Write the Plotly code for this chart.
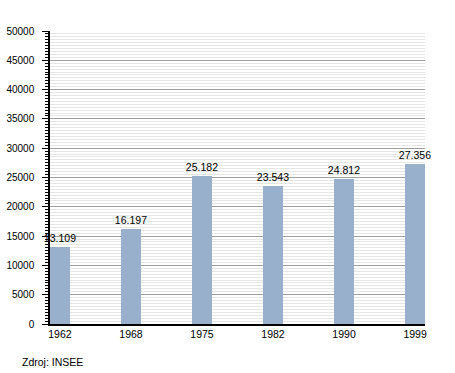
import plotly.graph_objects as go

years = ["1962", "1968", "1975", "1982", "1990", "1999"]
population = [13109, 16197, 25182, 23543, 24812, 27356]
y_ticks = list(range(0, 50001, 5000))

fig = go.Figure()
fig.add_trace(go.Bar(
    x=list(range(len(years))),
    y=population,
    width=0.28,
    marker=dict(color="#98b0cc", line=dict(width=0)),
    texttemplate="%{y:,}",
    textposition="outside",
    constraintext="none",
    textfont=dict(color="black", size=10.5, family="Liberation Sans, Arial"),
    cliponaxis=False,
))

fig.update_layout(
    width=455, height=373,
    margin=dict(l=50, r=30, t=31, b=49, autoexpand=False),
    plot_bgcolor="white", paper_bgcolor="white",
    separators=",.",
    showlegend=False,
    font=dict(family="Liberation Sans, Arial", size=10, color="black"),
    bargap=0,
)
fig.update_xaxes(
    range=[-0.14, 5.14], automargin=False,
    tickmode="array", tickvals=list(range(len(years))), ticktext=years,
    showgrid=False, showline=True, linecolor="black", linewidth=1.5,
    ticks="", tickfont=dict(size=10.5), ticklabelstandoff=0,
)
fig.update_yaxes(
    range=[0, 50000], automargin=False,
    tickmode="array", tickvals=y_ticks, ticktext=[str(v) for v in y_ticks],
    showgrid=True, gridcolor="#a0a0a0", gridwidth=1,
    showline=True, linecolor="black", linewidth=1.5,
    ticks="outside", ticklen=6, tickcolor="black", ticklabelstandoff=6,
    minor=dict(dtick=500, showgrid=True, gridcolor="#e6e6e6", gridwidth=1,
               ticks="outside", ticklen=3, tickcolor="black"),
    zeroline=False, tickfont=dict(size=10),
)
fig.add_annotation(
    text="Zdroj: INSEE", xref="paper", yref="paper",
    x=-0.08, y=-0.13, xanchor="left", yanchor="middle", showarrow=False,
    font=dict(size=10.5, color="black"),
)
fig.write_html("out.html", config={"displayModeBar": False},
               post_script="document.body.style.margin='0';")
